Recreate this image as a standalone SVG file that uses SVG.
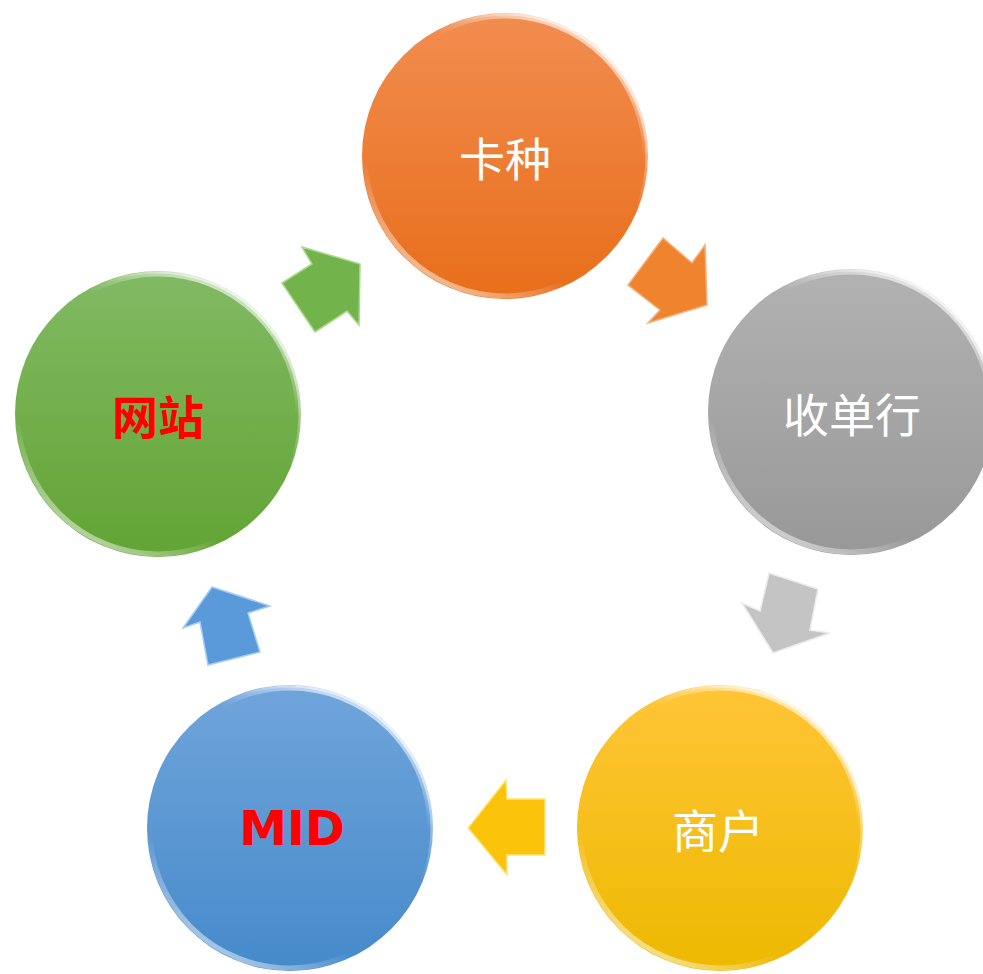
<svg xmlns="http://www.w3.org/2000/svg" width="983" height="974" viewBox="0 0 983 974">
<style>
.lbl{font-family:"Noto Sans CJK SC","Noto Sans",sans-serif;font-size:46px;fill:#fff;text-anchor:middle;dominant-baseline:central}
.red{fill:#ff0000;font-weight:bold}
.mid{font-family:"DejaVu Sans",sans-serif;font-size:48px;font-weight:bold;fill:#ff0000;text-anchor:middle;dominant-baseline:central}
.rim{fill:none;stroke:url(#rim);stroke-width:5}
.rim2{fill:none;stroke:url(#rim2);stroke-width:3}
</style>
<defs>
<linearGradient id="gO" x1="0" y1="0" x2="0" y2="1"><stop offset="0" stop-color="#F28D50"/><stop offset="1" stop-color="#E86E1A"/></linearGradient>
<linearGradient id="gG" x1="0" y1="0" x2="0" y2="1"><stop offset="0" stop-color="#B2B2B2"/><stop offset="1" stop-color="#989898"/></linearGradient>
<linearGradient id="gY" x1="0" y1="0" x2="0" y2="1"><stop offset="0" stop-color="#FFC537"/><stop offset="1" stop-color="#EDB900"/></linearGradient>
<linearGradient id="gB" x1="0" y1="0" x2="0" y2="1"><stop offset="0" stop-color="#70A5DB"/><stop offset="1" stop-color="#468ACA"/></linearGradient>
<linearGradient id="gN" x1="0" y1="0" x2="0" y2="1"><stop offset="0" stop-color="#82BA64"/><stop offset="1" stop-color="#62A434"/></linearGradient>
<linearGradient id="rim" x1="0" y1="1" x2="0.6" y2="0"><stop offset="0" stop-color="#fff" stop-opacity="0.9"/><stop offset="0.35" stop-color="#fff" stop-opacity="0"/><stop offset="0.8" stop-color="#fff" stop-opacity="0"/><stop offset="1" stop-color="#fff" stop-opacity="0.6"/></linearGradient>
<linearGradient id="rim2" x1="0.9" y1="0.2" x2="0.2" y2="0.9"><stop offset="0" stop-color="#fff" stop-opacity="0.7"/><stop offset="0.3" stop-color="#fff" stop-opacity="0"/></linearGradient>
</defs>
<g id="connectors">
<polygon points="282,283 312,264 302,247 360,264 359,325 347,311 315,332" fill="#72B34C" stroke="#A8D88A" stroke-width="1.5"/>
<polygon points="663,238 692,263 705,245 707,305 648,323 660,310 628,285" fill="#F0842E" stroke="#F7B07A" stroke-width="1.5"/>
<polygon points="769,573 818,589 810,630 830,633 773,653 742,603 760,611" fill="#C4C4C4" stroke="#EDEDED" stroke-width="1.5"/>
<polygon points="468,828 506,780 507,799 545,799 545,855 507,855 507,875" fill="#FBC30A" stroke="#FFE680" stroke-width="1.5"/>
<polygon points="212,587 270,606 248,613 260,652 208,665 200,622 183,628" fill="#5A9ADB" stroke="#A6CDF2" stroke-width="1.5"/>
</g>
<g id="node-kazhong">
<circle cx="505" cy="156" r="143" fill="url(#gO)"/>
<circle cx="505" cy="156" r="140" class="rim"/>
<circle cx="505" cy="156" r="142" class="rim2"/>
<text x="505" y="156" class="lbl">卡种</text>
</g>
<g id="node-shoudanhang">
<circle cx="851" cy="412" r="143" fill="url(#gG)"/>
<circle cx="851" cy="412" r="140" class="rim"/>
<circle cx="851" cy="412" r="142" class="rim2"/>
<text x="852" y="412" class="lbl">收单行</text>
</g>
<g id="node-shanghu">
<circle cx="720" cy="828" r="143" fill="url(#gY)"/>
<circle cx="720" cy="828" r="140" class="rim"/>
<circle cx="720" cy="828" r="142" class="rim2"/>
<text x="718" y="828" class="lbl">商户</text>
</g>
<g id="node-mid">
<circle cx="290" cy="828" r="143" fill="url(#gB)"/>
<circle cx="290" cy="828" r="140" class="rim"/>
<circle cx="290" cy="828" r="142" class="rim2"/>
<text x="292" y="828" class="mid">MID</text>
</g>
<g id="node-wangzhan">
<circle cx="158" cy="414" r="143" fill="url(#gN)"/>
<circle cx="158" cy="414" r="140" class="rim"/>
<circle cx="158" cy="414" r="142" class="rim2"/>
<text x="158" y="414" class="lbl red">网站</text>
</g>
</svg>
